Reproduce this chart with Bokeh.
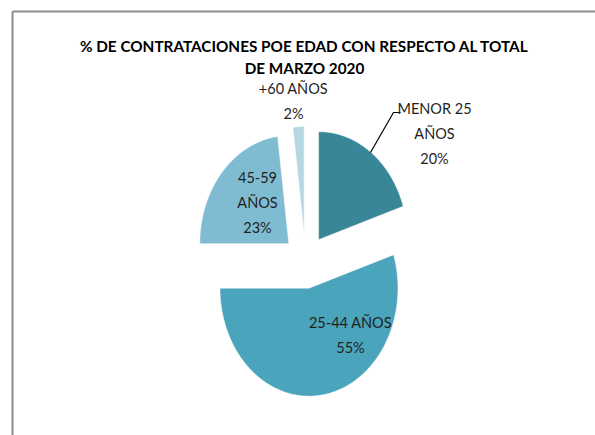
import numpy as np
from bokeh.plotting import figure
from bokeh.models import Range1d
from bokeh.core.properties import value
from bokeh.embed import file_html
from bokeh.resources import INLINE

# ---- data ----
categories = ["MENOR 25 AÑOS", "25-44 AÑOS", "45-59 AÑOS", "+60 AÑOS"]
percent = [20, 55, 23, 2]
label_lines = [["MENOR 25", "AÑOS"], ["25-44 AÑOS"], ["45-59", "AÑOS"], ["+60 AÑOS"]]
colors = ["#3a8699", "#4aa5bc", "#7fbcd2", "#b5d7e2"]
title_lines = ["% DE CONTRATACIONES POE EDAD CON RESPECTO AL TOTAL", "DE MARZO 2020"]

# ---- layout (page pixel coordinates) ----
W, H = 595, 435
cx, cy = 305.0, 261.0
rx, ry = 89.0, 108.0
explode = 0.25
label_pos = [(434, 108), (350, 322), (257, 177), (293, 88)]
line_step = 25

FONT = "Lato"

p = figure(width=W, height=H, output_backend="svg", toolbar_location=None,
           x_range=Range1d(0, W), y_range=Range1d(H, 0),
           x_axis_location=None, y_axis_location=None, min_border=0)
p.grid.visible = False
p.outline_line_color = None
p.background_fill_color = "white"
p.border_fill_color = "white"

# frame lines (top and left)
p.line([12, W], [11, 11], line_color="#8c8c8c", line_width=2)
p.line([12, 12], [11, H], line_color="#8c8c8c", line_width=2)

# slices
total = float(sum(percent))
cum = np.concatenate([[0.0], np.cumsum(percent)]) / total * 2 * np.pi
xs, ys = [], []
for i in range(len(percent)):
    a0, a1 = cum[i], cum[i + 1]
    mid = 0.5 * (a0 + a1)
    ax = cx + explode * rx * np.sin(mid)
    ay = cy - explode * ry * np.cos(mid)
    t = np.linspace(a0, a1, 120)
    xs.append(list(np.concatenate([[ax], ax + rx * np.sin(t), [ax]])))
    ys.append(list(np.concatenate([[ay], ay - ry * np.cos(t), [ay]])))
p.patches(xs, ys, fill_color=colors, line_color="white", line_width=0.5)

# leader line for MENOR 25
p.line([370, 393, 400], [152, 112, 112], line_color="black", line_width=1.2)

# labels
tx, ty, tt = [], [], []
for i, lines in enumerate(label_lines):
    lx, ly = label_pos[i]
    allines = lines + [f"{percent[i]}%"]
    for k, s in enumerate(allines):
        tx.append(lx)
        ty.append(ly + k * line_step)
        tt.append(s)
p.text(x=tx, y=ty, text=tt, text_align="center", text_baseline="middle",
       text_font=value(FONT), text_font_size="14.5px", text_color="#1f1f1f")

# title
p.text(x=[304, 304], y=[45, 67], text=title_lines, text_align="center", text_baseline="middle",
       text_font=value(FONT), text_font_size="15.3px", text_font_style="bold", text_color="black")

open("out.html", "w").write(file_html(p, INLINE))
